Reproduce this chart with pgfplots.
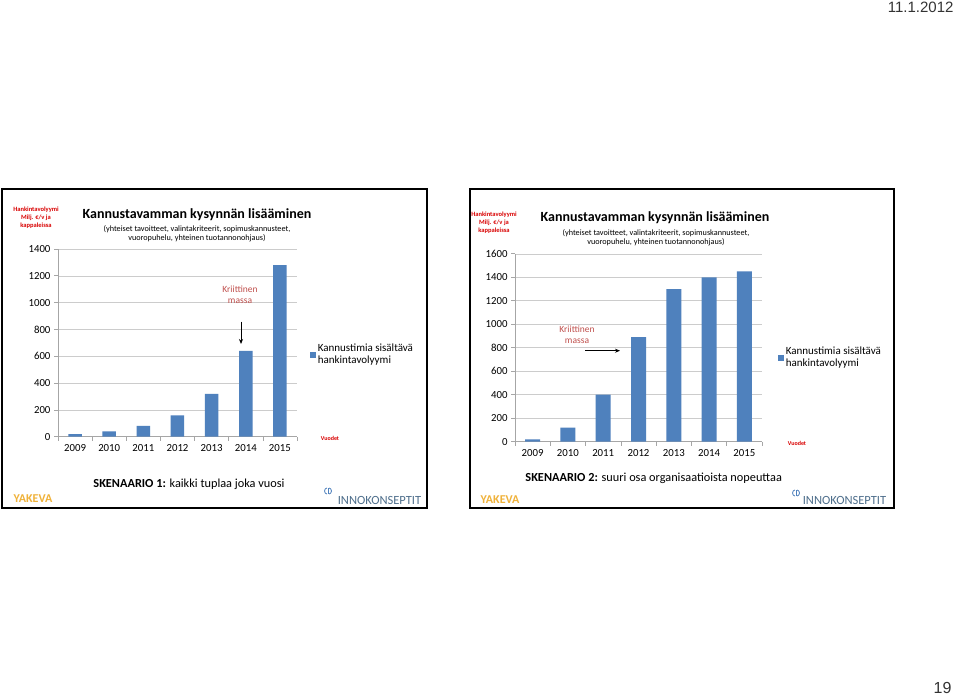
\documentclass[border=0pt]{standalone}
\usepackage{pgfplots}
\pgfplotsset{compat=1.18}
\usepackage{fontspec}
\setmainfont{Carlito}
\newfontfamily\arial{Liberation Sans}
\usetikzlibrary{arrows.meta}

\definecolor{barblue}{HTML}{4F81BD}
\definecolor{xlred}{HTML}{C0504D}
\definecolor{gold}{HTML}{F0B23A}
\definecolor{inno}{HTML}{4F6F8C}

\newcommand{\fs}[2]{\fontsize{#1}{#2}\selectfont}

\pgfplotsset{
  slide/.style={
    anchor=south west, scale only axis,
    ybar, xmin=-0.5, xmax=6.5, ymin=0,
    xtick={0,...,6}, xticklabels={2009,2010,2011,2012,2013,2014,2015},
    minor xtick={-0.5,0.5,...,6.5},
    axis lines*=left,
    axis line style={gray!70, line width=0.7pt},
    tick align=outside,
    major x tick style={draw=none},
    minor tick length=4pt, major tick length=4pt,
    tick style={gray!70, line width=0.7pt},
    ymajorgrids, grid style={gray!40, line width=0.6pt},
    ticklabel style={font=\fs{10.8}{12}},
    /pgf/number format/assume math mode=true,
    /pgf/number format/1000 sep={},
    legend style={draw=none, fill=none, inner sep=0pt, anchor=north west,
      font=\fs{11}{12}, cells={align=left}},
  },
  bars/.style={fill=barblue, draw=none,
    legend image code/.code={\fill[barblue] (0pt,-3pt) rectangle (6pt,3pt);}},
}

\begin{document}
\begin{tikzpicture}
\path[use as bounding box, fill=white] (0,0) rectangle (960pt,697pt);

% frames
\draw[line width=1.5pt] (2pt,189pt) rectangle (427pt,508pt);
\draw[line width=1.5pt] (470pt,189pt) rectangle (894pt,508pt);

% left chart: every year doubles
\begin{axis}[slide, at={(58pt,260.3pt)}, width=239pt, height=187.7pt,
  ymax=1400, ytick={0,200,...,1400}, bar width=13.5pt,
  legend style={at={(1.053,0.505)}}]
\addplot[bars] coordinates {(0,20) (1,40) (2,80) (3,160) (4,320) (5,640) (6,1280)};
\addlegendentry{Kannustimia sisältävä\\hankintavolyymi}
\end{axis}

% right chart
\begin{axis}[slide, at={(515pt,255.3pt)}, width=247pt, height=187.9pt,
  ymax=1600, ytick={0,200,...,1600}, bar width=15pt,
  legend style={at={(1.063,0.515)}}]
\addplot[bars] coordinates {(0,20) (1,120) (2,400) (3,890) (4,1300) (5,1400) (6,1450)};
\addlegendentry{Kannustimia sisältävä\\hankintavolyymi}
\end{axis}

% titles
\node[font=\bfseries\fs{14}{16}] at (197pt,482pt) {Kannustavamman kysynnän lisääminen};
\node[font=\fs{8.2}{9}, align=center] at (197pt,463.2pt)
  {(yhteiset tavoitteet, valintakriteerit, sopimuskannusteet,\\vuoropuhelu, yhteinen tuotannonohjaus)};
\node[font=\bfseries\fs{14}{16}] at (655pt,479pt) {Kannustavamman kysynnän lisääminen};
\node[font=\fs{8.2}{9}, align=center] at (656pt,459.2pt)
  {(yhteiset tavoitteet, valintakriteerit, sopimuskannusteet,\\vuoropuhelu, yhteinen tuotannonohjaus)};

% axis captions
\node[font=\bfseries\fs{6.5}{8}, text=red!85!black, align=center] at (36pt,479pt)
  {Hankintavolyymi\\Milj. €/v ja\\kappaleissa};
\node[font=\bfseries\fs{6.5}{8}, text=red!85!black, align=center] at (494pt,474.5pt)
  {Hankintavolyymi\\Milj. €/v ja\\kappaleissa};
\node[font=\bfseries\fs{6}{7}, text=red!85!black] at (330pt,259pt) {Vuodet};
\node[font=\bfseries\fs{6}{7}, text=red!85!black] at (797pt,254pt) {Vuodet};

% annotations
\node[font=\fs{9.5}{11.5}, text=xlred, align=center] at (240pt,402pt) {Kriittinen\\massa};
\draw[line width=1pt, -{Stealth[length=5pt,width=4pt]}] (241pt,375.3pt) -- (241pt,353pt);
\node[font=\fs{9.5}{11}, text=xlred, align=center] at (577pt,362pt) {Kriittinen\\massa};
\draw[line width=1pt, -{Stealth[length=5pt,width=4pt]}] (585pt,346.3pt) -- (620pt,346.3pt);

% scenario captions
\node[font=\fs{12.3}{14}] at (189pt,212.3pt) {\textbf{SKENAARIO 1:} kaikki tuplaa joka vuosi};
\node[font=\fs{12.3}{14}] at (653.7pt,218.7pt) {\textbf{SKENAARIO 2:} suuri osa organisaatioista nopeuttaa};

% logos
\node[font=\bfseries\fs{12}{13}, text=gold] at (33pt,198pt) {YAKEVA};
\node[font=\bfseries\fs{12}{13}, text=gold] at (500pt,197pt) {YAKEVA};
\node[font=\fs{12.5}{14}, text=inno] at (379.5pt,197pt) {INNOKONSEPTIT};
\node[font=\fs{12.5}{14}, text=inno] at (844.5pt,196.3pt) {INNOKONSEPTIT};
\foreach \cx/\cy in {328/206, 796/204}{
  \draw[barblue, line width=0.8pt] (\cx pt-1pt,\cy pt+3pt) arc (90:270:2.5pt and 3pt);
  \draw[barblue, line width=0.8pt] (\cx pt,\cy pt+3pt) -- (\cx pt,\cy pt-3pt);
  \draw[barblue, line width=0.8pt] (\cx pt+1pt,\cy pt+3pt) arc (90:-90:2.5pt and 3pt);
}

% slide furniture
\node[font=\arial\fs{15}{17}, text=black!80, anchor=east] at (957pt,690pt) {11.1.2012};
\node[font=\arial\fs{16}{18}, text=black!80, anchor=east] at (955pt,9pt) {19};
\end{tikzpicture}
\end{document}
